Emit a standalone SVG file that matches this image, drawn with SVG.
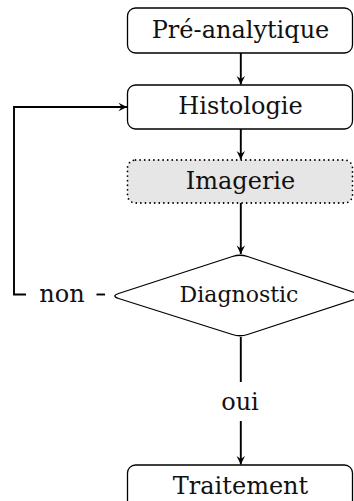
<svg xmlns="http://www.w3.org/2000/svg" width="354" height="501" viewBox="0 0 354 501">
<defs>
<style>
.box{fill:#fff;stroke:#000;stroke-width:1.3}
.dot{fill:#e6e6e6;stroke:#000;stroke-width:1.8;stroke-dasharray:0 4.6;stroke-linecap:round}
.lbl{font-family:"DejaVu Serif","Liberation Serif",serif;font-size:24px;fill:#111;text-anchor:middle}
.sm{font-size:22px}
.edge{fill:none;stroke:#000;stroke-width:1.9}
</style>
<marker id="ah" viewBox="-9 -5 10 10" refX="0" refY="0" markerWidth="10" markerHeight="10" markerUnits="userSpaceOnUse" orient="auto">
<path d="M0,0 L-8.5,-4.2 L-5.5,0 L-8.5,4.2 Z" fill="#000"/>
</marker>
</defs>
<g id="pre"><rect class="box" x="127.5" y="8" width="225" height="45" rx="8"/><text class="lbl" x="240.5" y="38">Pré-analytique</text></g>
<g id="histo"><rect class="box" x="127.5" y="85" width="225" height="44" rx="8"/><text class="lbl" x="240.5" y="114">Histologie</text></g>
<g id="imagerie"><rect class="dot" x="127.5" y="160" width="225" height="43" rx="8"/><text class="lbl" x="240.5" y="189">Imagerie</text></g>
<g id="diag"><path class="box" d="M232.4,256.5 Q240,254 247.6,256.5 L357.4,293.5 Q365,296 357.4,298.5 L247.6,334.5 Q240,337 232.4,334.5 L118.6,298.5 Q111,296 118.6,293.5 Z"/><text class="lbl sm" x="239" y="302">Diagnostic</text></g>
<g id="trait"><rect class="box" x="127.5" y="465" width="225" height="44" rx="8"/><text class="lbl" x="240.5" y="494">Traitement</text></g>
<g id="edges">
<path class="edge" d="M240.8,53 V84.5" marker-end="url(#ah)"/>
<path class="edge" d="M240.8,129 V159.5" marker-end="url(#ah)"/>
<path class="edge" d="M240.8,203 V254" marker-end="url(#ah)"/>
<path class="edge" d="M240.8,337 V382"/>
<path class="edge" d="M240.8,421 V464.5" marker-end="url(#ah)"/>
<path class="edge" d="M26,294.5 H14 V107 H127" marker-end="url(#ah)"/>
<path class="edge" d="M96.5,294.5 H105"/>
<text class="lbl" x="62" y="302">non</text>
<text class="lbl" x="240" y="410">oui</text>
</g>
</svg>
